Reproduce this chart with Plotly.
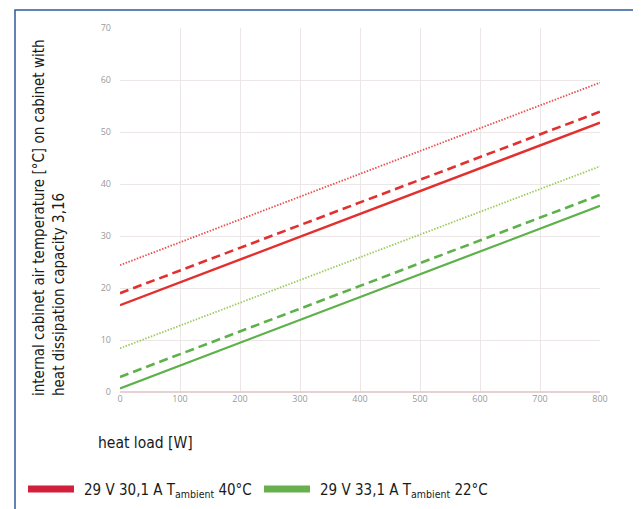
import plotly.graph_objects as go

heat_load = [0, 800]
red_solid = [16.7, 51.8]
red_dashed = [19.0, 53.9]
red_dotted = [24.4, 59.5]
green_solid = [0.7, 35.8]
green_dashed = [2.9, 37.9]
green_dotted = [8.4, 43.4]

legend_labels = ["29 V 30,1 A T<sub>ambient</sub> 40°C", "29 V 33,1 A T<sub>ambient</sub> 22°C"]
x_ticks = [0, 100, 200, 300, 400, 500, 600, 700, 800]
y_ticks = [0, 10, 20, 30, 40, 50, 60, 70]

RED = "#e2302f"
RED_LIGHT = "#e8504f"
GREEN = "#5db14a"
GREEN_LIGHT = "#9ccc5e"
LEG_RED = "#d21f3c"
LEG_GREEN = "#68b04e"

fig = go.Figure()
series = [
    (red_dotted, RED_LIGHT, 1.8, "1.5px,1.5px"),
    (red_dashed, RED, 2.6, "9px,5px"),
    (red_solid, RED, 2.4, "solid"),
    (green_dotted, GREEN_LIGHT, 1.8, "1.5px,1.5px"),
    (green_dashed, GREEN, 2.6, "9px,5px"),
    (green_solid, GREEN, 2.2, "solid"),
]
for ys, col, w, dash in series:
    fig.add_trace(go.Scatter(x=heat_load, y=ys, mode="lines",
                             line=dict(color=col, width=w, dash=dash),
                             showlegend=False, hoverinfo="skip"))

FONT = "DejaVu Sans Condensed, Liberation Sans Narrow, sans-serif"
OFF = 8  # page body margin
FW, FH = 641 - OFF, 509 - OFF
L, T, W, H = 120 - OFF, 28 - OFF, 480, 364

def px(x):  # page pixel -> paper
    return (x - OFF - L) / W

def py(y):
    return (T + H - (y - OFF)) / H

fig.update_layout(
    width=FW, height=FH,
    margin=dict(l=L, r=FW - L - W, t=T, b=FH - T - H, autoexpand=False),
    paper_bgcolor="white", plot_bgcolor="white",
    showlegend=False,
    xaxis=dict(range=[0, 800], tickvals=x_ticks, showgrid=True,
               gridcolor="#ece6e6", gridwidth=1, zeroline=False,
               showline=False, ticks="", ticklen=0,
               tickfont=dict(family="Open Sans", size=9, color="#9a9a9a")),
    yaxis=dict(range=[0, 70], tickvals=y_ticks, showgrid=True,
               gridcolor="#ece6e6", gridwidth=1, zeroline=True,
               zerolinecolor="#e6d2d2", zerolinewidth=1.5,
               showline=False, ticks="", ticklabelstandoff=8,
               tickfont=dict(family="Open Sans", size=9, color="#9a9a9a")),
    font=dict(family=FONT),
)

# y axis title (two lines, bottom aligned)
fig.add_annotation(
    text="internal cabinet air temperature [°C] on cabinet with<br>heat dissipation capacity 3,16",
    xref="paper", yref="paper", x=px(49), y=py(218),
    xanchor="center", yanchor="middle", textangle=-90, align="left", showarrow=False,
    font=dict(family=FONT, size=15, color="#1a1a1a"))

fig.add_annotation(
    text="heat load [W]", xref="paper", yref="paper",
    x=px(96), y=py(443), xanchor="left", yanchor="middle",
    showarrow=False, font=dict(family=FONT, size=15.5, color="#1a1a1a"))

# legend drawn manually
for (x0, x1, tx), lab, col in zip([(25, 77, 82), (261, 313, 318)], legend_labels, [LEG_RED, LEG_GREEN]):
    fig.add_shape(type="line", xref="paper", yref="paper",
                  x0=px(x0 + 3), x1=px(x1 - 3), y0=py(489), y1=py(489),
                  line=dict(color=col, width=7), layer="above")
    fig.add_annotation(text=lab, xref="paper", yref="paper", x=px(tx), y=py(490),
                       xanchor="left", yanchor="middle", showarrow=False,
                       font=dict(family=FONT, size=15, color="#1a1a1a"))

# outer frame
fig.add_shape(type="rect", xref="paper", yref="paper",
              x0=px(15), x1=px(638), y0=py(540), y1=py(10),
              line=dict(color="#2f5a9c", width=1.5), layer="below")

fig.write_html("out.html")
